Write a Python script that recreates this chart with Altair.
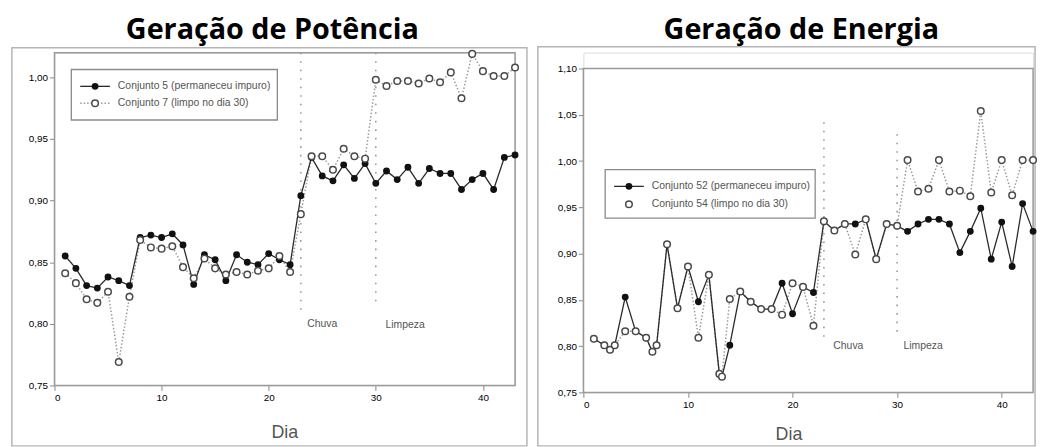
import altair as alt
import pandas as pd

# ---------------- data ----------------
days = list(range(1, 44))

pot_c5 = [0.855, 0.845, 0.831, 0.829, 0.838, 0.835, 0.831, 0.870, 0.872, 0.870,
          0.873, 0.864, 0.832, 0.856, 0.852, 0.835, 0.856, 0.850, 0.848, 0.857,
          0.852, 0.848, 0.904, 0.935, 0.920, 0.916, 0.929, 0.918, 0.930, 0.914,
          0.924, 0.917, 0.927, 0.914, 0.926, 0.922, 0.922, 0.909, 0.917, 0.922,
          0.909, 0.935, 0.937]
pot_c7 = [0.841, 0.833, 0.820, 0.817, 0.826, 0.769, 0.822, 0.868, 0.862, 0.861,
          0.863, 0.846, 0.837, 0.853, 0.845, 0.840, 0.842, 0.840, 0.843, 0.845,
          0.855, 0.842, 0.889, 0.936, 0.936, 0.925, 0.942, 0.936, 0.934, 0.998,
          0.993, 0.997, 0.997, 0.995, 0.999, 0.996, 1.004, 0.983, 1.019, 1.005,
          1.001, 1.001, 1.008]

en_days = [1, 2, 2.55, 3, 4, 5, 6, 6.6, 7, 8, 9, 10, 11, 12, 13, 13.25, 14, 15, 16,
           17, 18, 19, 20, 21, 22, 23, 24, 25, 26, 27, 28, 29, 30, 31, 32, 33, 34,
           35, 36, 37, 38, 39, 40, 41, 42, 43]
en_c52 = [0.808, 0.801, 0.796, 0.801, 0.853, 0.816, 0.809, 0.794, 0.801, 0.910,
          0.841, 0.886, 0.848, 0.877, 0.770, 0.767, 0.801, 0.859, 0.848, 0.840,
          0.840, 0.868, 0.835, 0.864, 0.858, 0.935, 0.925, 0.932, 0.932, 0.937,
          0.894, 0.932, 0.930, 0.924, 0.932, 0.937, 0.937, 0.932, 0.901, 0.924,
          0.949, 0.894, 0.934, 0.886, 0.954, 0.924]
en_c54 = [0.808, 0.801, 0.796, 0.801, 0.816, 0.816, 0.809, 0.794, 0.801, 0.910,
          0.841, 0.886, 0.809, 0.877, 0.770, 0.767, 0.851, 0.859, 0.848, 0.840,
          0.840, 0.834, 0.868, 0.864, 0.822, 0.935, 0.925, 0.932, 0.899, 0.937,
          0.894, 0.932, 0.930, 1.001, 0.967, 0.970, 1.001, 0.967, 0.968, 0.962,
          1.054, 0.966, 1.001, 0.963, 1.001, 1.001]

event_labels = ["Chuva", "Limpeza"]
event_days = [23, 30]
pot_event_top = [1.02, 1.02]
pot_event_bottom = [0.807, 0.815]
pot_label_day = [23.6, 30.9]
pot_label_y = [0.800, 0.799]
en_event_top = [1.042, 1.029]
en_event_bottom = [0.810, 0.810]
en_label_day = [23.9, 30.6]
en_label_y = [0.800, 0.800]

titles = ["Geração de Potência", "Geração de Energia"]
pot_legend = ["Conjunto 5 (permaneceu impuro)", "Conjunto 7 (limpo no dia 30)"]
en_legend = ["Conjunto 52 (permaneceu impuro)", "Conjunto 54 (limpo no dia 30)"]

x_range = [0, 43]
pot_y_range = [0.75, 1.02]
en_y_range = [0.75, 1.10]
x_ticks = [0, 10, 20, 30, 40]
pot_y_ticks = [0.75, 0.80, 0.85, 0.90, 0.95, 1.00]
en_y_ticks = [0.75, 0.80, 0.85, 0.90, 0.95, 1.00, 1.05, 1.10]

# ---------------- styling ----------------
SOLID = "#2a2a2a"
DOT = "#9a9a9a"
FRAME = "#9a9a9a"
LBL = "#555555"
one = alt.Data(values=[{"k": 0}])
comma = "replace(format(datum.value, '.2f'), '.', ',')"


def panel(title, title_pos, d_a, a_vals, d_b, b_vals, yrange, yticks, w, h, top_gap,
          ev_top, ev_bot, lab_day, lab_y, legend_txt, leg_box, leg_y, b_line,
          border, span, dia_x, dia_pad):
    dfa = pd.DataFrame({"day": d_a, "v": a_vals})
    dfb = pd.DataFrame({"day": d_b, "v": b_vals})
    ev = pd.DataFrame({"day": event_days, "top": ev_top, "bot": ev_bot})
    lab = pd.DataFrame({"day": lab_day, "y": lab_y, "t": event_labels})

    # the plot frame starts top_gap pixels below the panel origin
    ytop = yrange[1] + (yrange[1] - yrange[0]) * top_gap / (h - top_gap)
    xs = alt.Scale(domain=x_range, nice=False, zero=False)
    ys = alt.Scale(domain=[yrange[0], ytop], nice=False, zero=False)
    xax = alt.Axis(values=x_ticks, title="Dia", grid=False, format="d", domain=False,
                   titleFontSize=18, titleFontWeight="normal", titleColor=LBL,
                   titleFont="Liberation Sans", titlePadding=dia_pad, titleX=dia_x)
    yax = alt.Axis(values=yticks, title=None, grid=False, labelExpr=comma, domain=False)
    X = alt.X("day:Q", scale=xs, axis=xax)
    Y = alt.Y("v:Q", scale=ys, axis=yax)

    spacer = alt.Chart(one).mark_rect(opacity=0).encode(
        x=alt.value(0), x2=alt.value(10), y=alt.value(span[0]), y2=alt.value(span[1]))

    bx0, bx1, by0, by1 = border
    outer = alt.Chart(one).mark_rect(filled=False, stroke="#b5b5b5", strokeWidth=1.5).encode(
        x=alt.value(bx0), x2=alt.value(bx1), y=alt.value(by0), y2=alt.value(by1))
    plot_frame = alt.Chart(one).mark_rect(filled=False, stroke=FRAME, strokeWidth=1.5).encode(
        x=alt.X(datum=x_range[0], scale=xs), x2=alt.X2(datum=x_range[1]),
        y=alt.Y(datum=yrange[1], scale=ys), y2=alt.Y2(datum=yrange[0]))
    ttl = alt.Chart(one).mark_text(font="Open Sans", fontSize=29, fontWeight="bold",
                                   color="black", align="center", baseline="alphabetic").encode(
        x=alt.value(title_pos[0]), y=alt.value(title_pos[1]), text=alt.value(title))

    rules = alt.Chart(ev).mark_rule(color=DOT, strokeWidth=1.6, strokeDash=[1.6, 7]).encode(
        x=alt.X("day:Q", scale=xs), y=alt.Y("top:Q", scale=ys), y2="bot:Q")
    labels = alt.Chart(lab).mark_text(align="left", baseline="middle", fontSize=10.5,
                                      font="Liberation Sans", color=LBL).encode(
        x=alt.X("day:Q", scale=xs), y=alt.Y("y:Q", scale=ys), text="t:N")

    line_b = alt.Chart(dfb).mark_line(color=DOT, strokeWidth=1.5, strokeDash=[1.5, 2]).encode(x=X, y=Y)
    line_a = alt.Chart(dfa).mark_line(color=SOLID, strokeWidth=1.3).encode(x=X, y=Y)
    pts_a = alt.Chart(dfa).mark_point(shape="circle", filled=True, color="#111111",
                                      size=48, opacity=1).encode(x=X, y=Y)
    pts_b = alt.Chart(dfb).mark_point(shape="circle", filled=True, fill="white",
                                      stroke="#4a4a4a", strokeWidth=1.5, size=44,
                                      opacity=1).encode(x=X, y=Y)

    lx0, lx1, ly0, ly1 = leg_box
    box = alt.Chart(one).mark_rect(filled=False, stroke="#8a8a8a", strokeWidth=1.3).encode(
        x=alt.value(lx0), x2=alt.value(lx1), y=alt.value(ly0), y2=alt.value(ly1))
    sx0 = lx0 + 9
    sx1 = lx0 + 39
    cx = lx0 + 24
    tx = lx0 + 47
    leg = [box,
           alt.Chart(one).mark_rule(color=SOLID, strokeWidth=1.3).encode(
               x=alt.value(sx0), x2=alt.value(sx1), y=alt.value(leg_y[0])),
           alt.Chart(one).mark_point(shape="circle", filled=True, color="#111111",
                                     size=48, opacity=1).encode(
               x=alt.value(cx), y=alt.value(leg_y[0])),
           alt.Chart(one).mark_point(shape="circle", filled=True, fill="white",
                                     stroke="#4a4a4a", strokeWidth=1.5, size=44,
                                     opacity=1).encode(
               x=alt.value(cx), y=alt.value(leg_y[1]))]
    if b_line:
        leg.insert(3, alt.Chart(one).mark_rule(color=DOT, strokeWidth=1.5, strokeDash=[1.5, 2]).encode(
            x=alt.value(sx0), x2=alt.value(sx1), y=alt.value(leg_y[1])))
    for i, t in enumerate(legend_txt):
        leg.append(alt.Chart(one).mark_text(align="left", baseline="middle", fontSize=10.5,
                                            font="Liberation Sans", color=LBL).encode(
            x=alt.value(tx), y=alt.value(leg_y[i]), text=alt.value(t)))

    return alt.layer(spacer, outer, plot_frame, ttl, rules, labels, line_b, line_a,
                     pts_a, pts_b, *leg).properties(width=w, height=h)


# both panel origins sit at y=50 (the concat aligns them)
left = panel(titles[0], (220, -14), days, pot_c5, days, pot_c7,
             pot_y_range, pot_y_ticks, 465, 336, 0,
             pot_event_top, pot_event_bottom, pot_label_day, pot_label_y,
             pot_legend, (17, 225, 17, 68), (34, 51), True,
             (-43, 477, -5, 397), (-50, 397), 232, 22)
right = panel(titles[1], (220, -14), en_days, en_c52, en_days, en_c54,
              en_y_range, en_y_ticks, 454, 343, 16,
              en_event_top, en_event_bottom, en_label_day, en_label_y,
              en_legend, (22, 234, 118, 167), (135, 153), False,
              (-46, 456, -6, 397), (-50, 397), 207, 17)

chart = alt.hconcat(left, right, spacing=7).properties(
    padding={"left": 10, "top": 0, "right": 0, "bottom": 0}
).configure_view(strokeWidth=0).configure_axis(
    labelFont="Liberation Sans", labelFontSize=9, labelColor=LBL,
    tickColor="#888888", tickSize=6, labelPadding=3
).configure_axisX(labelPadding=6).configure(background="white")

chart.save("out.html", embed_options={"renderer": "svg", "actions": False})
